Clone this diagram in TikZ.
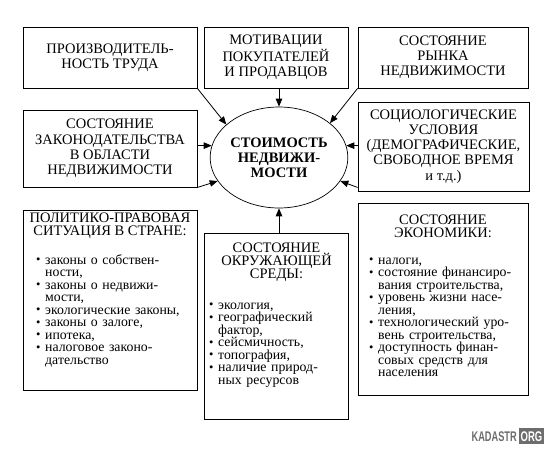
\documentclass[tikz,border=0pt]{standalone}
\usepackage{fontspec}
\usepackage{graphicx}
\setmainfont{Liberation Serif}
\newfontfamily\wmfont{Liberation Sans}
\usetikzlibrary{arrows.meta,shapes.geometric,positioning}
\definecolor{wmgray}{HTML}{6D6D6D}
\newcommand{\pnkt}{\par\noindent\strut\makebox[9pt][l]{\raisebox{0.6pt}{\fontsize{12.5}{12.5}\selectfont\textbullet}}}
\newcommand{\dal}{\\\hspace*{9pt}}
\tikzset{
    faktor/.style={draw,line width=0.9pt,inner sep=0pt,align=center,font={\fontsize{14.5}{15.2}\selectfont}},
    zagol/.style={inner sep=0pt,align=center,anchor=north,font={\fontsize{14.5}{13.2}\selectfont}},
    spisok/.style={inner sep=0pt,align=left,anchor=north west,font={\fontsize{13.8}{12.5}\selectfont\lineskiplimit=-5pt\relax}},
    tsentr/.style={ellipse,draw,line width=0.7pt,inner sep=0pt,minimum width=126pt,minimum height=101pt,align=center,font={\bfseries\fontsize{14.5}{15}\selectfont}},
    wmtext/.style={inner sep=0pt,text=wmgray,font={\wmfont\bfseries\fontsize{14}{14}\selectfont}},
    every edge/.style={draw,-{Triangle[length=8pt,width=6.5pt]},line width=0.8pt},
}
\begin{document}
\begin{tikzpicture}[x=1pt,y=-1pt]
    \useasboundingbox (0,0) rectangle (550,450);
    % upper row
    \node[faktor,minimum width=174pt,minimum height=61pt] (prod) at (110,57.5) {ПРОИЗВОДИТЕЛЬ-\\НОСТЬ ТРУДА};
    \node[faktor,minimum width=144pt,minimum height=61pt] (motiv) at (276,57.5) {МОТИВАЦИИ\\ПОКУПАТЕЛЕЙ\\И ПРОДАВЦОВ};
    \node[faktor,minimum width=170pt,minimum height=61pt] (rynok) at (443,57.5) {СОСТОЯНИЕ\\РЫНКА\\НЕДВИЖИМОСТИ};
    % middle row
    \node[faktor,minimum width=174pt,minimum height=77pt] (zakon) at (110,148.5) {СОСТОЯНИЕ\\ЗАКОНОДАТЕЛЬСТВА\\В ОБЛАСТИ\\НЕДВИЖИМОСТИ};
    \node[tsentr] (stoim) at (279,157.5) {СТОИМОСТЬ\\НЕДВИЖИ-\\МОСТИ};
    \node[faktor,minimum width=171pt,minimum height=89pt] (sotsio) at (443.5,146.5) {СОЦИОЛОГИЧЕСКИЕ\\УСЛОВИЯ\\(ДЕМОГРАФИЧЕСКИЕ,\\СВОБОДНОЕ ВРЕМЯ\\и т.д.)};
    % lower row
    \node[faktor,minimum width=174pt,minimum height=180pt] (polit) at (110,300) {};
    \node[faktor,minimum width=144pt,minimum height=186pt] (sreda) at (276.5,326) {};
    \node[faktor,minimum width=170pt,minimum height=192pt] (ekon) at (443,299) {};

    \node[zagol] (politT) at ([yshift=-1.8pt]polit.north) {\rule{0pt}{11pt}ПОЛИТИКО-ПРАВОВАЯ\\СИТУАЦИЯ В СТРАНЕ:};
    \node[zagol] (sredaT) at ([yshift=-8.8pt]sreda.north) {\rule{0pt}{11pt}СОСТОЯНИЕ\\ОКРУЖАЮЩЕЙ\\СРЕДЫ:};
    \node[zagol] (ekonT) at ([yshift=-10.8pt]ekon.north) {\rule{0pt}{11pt}СОСТОЯНИЕ\\ЭКОНОМИКИ:};

    \node[spisok,text width=162pt] (politL) at (36,251.5) {\pnkt законы о собствен-\dal ности, \pnkt законы о недвижи-\dal мости, \pnkt экологические законы, \pnkt законы о залоге, \pnkt ипотека, \pnkt налоговое законо-\dal дательство};
    \node[spisok,text width=140pt] (sredaL) at (209,296.5) {\pnkt экология, \pnkt географический\dal фактор, \pnkt сейсмичность, \pnkt топография, \pnkt наличие природ-\dal ных ресурсов};
    \node[spisok,text width=160pt] (ekonL) at (369,251.5) {\pnkt налоги, \pnkt состояние финансиро-\dal вания строительства, \pnkt уровень жизни насе-\dal ления, \pnkt технологический уро-\dal вень строительства, \pnkt доступность финан-\dal совых средств для\dal населения};

    \path
    (prod.south east) edge (stoim.148)
    (stoim.north |- motiv.south) edge (stoim.north)
    (rynok.south west) edge (stoim.34)
    (zakon.east |- stoim.170) edge (stoim.170)
    (zakon.south east) edge (stoim.201)
    (sotsio.west |- stoim.10) edge (stoim.10)
    ([yshift=4pt]sotsio.south west) edge (stoim.339)
    (stoim.south |- sreda.north) edge (stoim.south);

    % watermark
    \node[wmtext,anchor=base east] (wmK) at (517,441) {\scalebox{0.66}[1]{KADASTR}};
    \node[wmtext,right=2pt of wmK,fill=wmgray,text=white,inner xsep=1.5pt,minimum height=16pt] (wmO) {\scalebox{0.68}[1]{ORG}};
\end{tikzpicture}
\end{document}
